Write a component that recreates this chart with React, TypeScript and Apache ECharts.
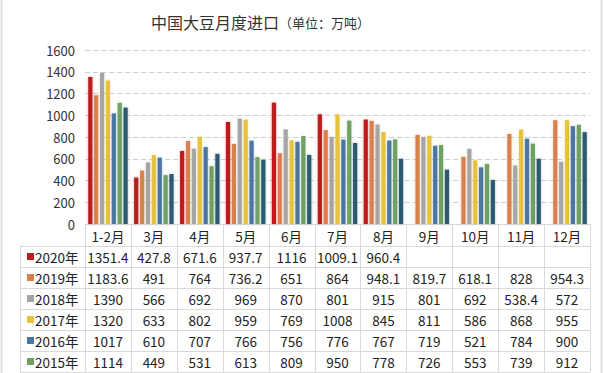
import React, { useEffect, useRef } from "react";
import * as echarts from "echarts";

const categories = ["1-2月", "3月", "4月", "5月", "6月", "7月", "8月", "9月", "10月", "11月", "12月"];
const years = ["2020年", "2019年", "2018年", "2017年", "2016年", "2015年", "2014年"];
const colors = ["#BE1F1E", "#D9814E", "#A6A6A6", "#E8C23E", "#4B76A3", "#6FA062", "#2D5A71"];

const s2020 = [1351.4, 427.8, 671.6, 937.7, 1116, 1009.1, 960.4, null, null, null, null];
const s2019 = [1183.6, 491, 764, 736.2, 651, 864, 948.1, 819.7, 618.1, 828, 954.3];
const s2018 = [1390, 566, 692, 969, 870, 801, 915, 801, 692, 538.4, 572];
const s2017 = [1320, 633, 802, 959, 769, 1008, 845, 811, 586, 868, 955];
const s2016 = [1017, 610, 707, 766, 756, 776, 767, 719, 521, 784, 900];
const s2015 = [1114, 449, 531, 613, 809, 950, 778, 726, 553, 739, 912];
// 7th series: not in the visible table
const s2014 = [1070, 460, 645, 590, 635, 745, 600, 500, 405, 600, 845];

const seriesData = [s2020, s2019, s2018, s2017, s2016, s2015, s2014];
const tableRows = 6;

const FONT = "'Noto Sans CJK SC', 'Noto Sans', sans-serif";

function hexA(hex: string, a: number) {
  const n = parseInt(hex.slice(1), 16);
  return `rgba(${(n >> 16) & 255},${(n >> 8) & 255},${n & 255},${a})`;
}

export default function App() {
  const ref = useRef<HTMLDivElement>(null);
  useEffect(() => {
    document.body.style.margin = "0";
    const el = ref.current!;
    const chart = echarts.init(el, null, { renderer: "svg" });
    const option: any = {
      animation: false,
      backgroundColor: "#ffffff",
      textStyle: { fontFamily: FONT },
      title: {
        text: "{a|中国大豆月度进口}{b|（单位：万吨）}",
        left: 146,
        top: 9,
        textStyle: {
          fontWeight: "normal",
          rich: {
            a: { fontSize: 16, color: "#333", fontFamily: FONT, fontWeight: "normal" },
            b: { fontSize: 13, color: "#333", fontFamily: FONT, fontWeight: "normal" },
          },
        },
      },
      grid: { left: 85, right: 14, top: 50, bottom: 149, containLabel: false },
      xAxis: {
        type: "category",
        data: categories,
        axisLine: { lineStyle: { color: "#d9d9d9" } },
        axisTick: { show: false },
        axisLabel: { fontSize: 13.5, color: "#222", margin: 5, fontFamily: FONT },
      },
      yAxis: {
        type: "value",
        min: 0,
        max: 1600,
        interval: 200,
        axisLine: { show: false },
        axisTick: { show: false },
        axisLabel: { fontSize: 13, color: "#333", margin: 10, fontFamily: FONT, formatter: (v: number) => String(v) },
        splitLine: { lineStyle: { type: [5, 3], color: "#cfcfcf" } },
      },
      series: seriesData.map((d, i) => ({
        name: years[i],
        type: "bar",
        data: d,
        barGap: "40%",
        barCategoryGap: "14%",
        itemStyle: {
          color: colors[i],
          shadowBlur: 3,
          shadowColor: hexA(colors[i], 0.35),
        },
      })),
    };
    chart.setOption(option);

    const xs = categories.map((_, i) => chart.convertToPixel({ xAxisIndex: 0 }, i) as number);
    const colW = xs[1] - xs[0];
    const y0 = chart.convertToPixel({ yAxisIndex: 0 }, 0) as number;
    const headerH = 22;
    const rowH = 21;
    const tableLeft = 20;
    const tableRight = xs[xs.length - 1] + colW / 2;
    const bodyTop = y0 + headerH;
    const bottom = bodyTop + tableRows * rowH;
    const gridColor = "#d9d9d9";
    const px = (v: number) => Math.round(v) + 0.5;

    const g: any[] = [];
    for (let r = 0; r <= tableRows; r++) {
      const y = px(bodyTop + r * rowH);
      g.push({ type: "line", shape: { x1: tableLeft, y1: y, x2: tableRight, y2: y }, style: { stroke: gridColor, lineWidth: 1 } });
    }
    g.push({ type: "line", shape: { x1: px(tableLeft), y1: bodyTop, x2: px(tableLeft), y2: bottom }, style: { stroke: gridColor, lineWidth: 1 } });
    for (let i = 0; i <= categories.length; i++) {
      const x = px(xs[0] - colW / 2 + i * colW);
      g.push({ type: "line", shape: { x1: x, y1: y0, x2: x, y2: bottom }, style: { stroke: gridColor, lineWidth: 1 } });
    }
    for (let r = 0; r < tableRows; r++) {
      const cy = bodyTop + r * rowH + rowH / 2;
      g.push({ type: "rect", shape: { x: 27, y: cy - 3.5, width: 7, height: 7 }, style: { fill: colors[r] } });
      g.push({
        type: "text",
        x: 35,
        y: cy,
        style: { text: years[r], fontSize: 13.5, fill: "#222", fontFamily: FONT, verticalAlign: "middle", align: "left" },
      });
      seriesData[r].forEach((v, i) => {
        if (v === null || v === undefined) return;
        g.push({
          type: "text",
          x: xs[i],
          y: cy,
          style: { text: String(v), fontSize: 13.5, fill: "#222", fontFamily: FONT, verticalAlign: "middle", align: "center" },
        });
      });
    }
    g.push({ type: "line", shape: { x1: 1.5, y1: 0, x2: 1.5, y2: 373 }, style: { stroke: "#e2e2e2", lineWidth: 2 } });
    g.push({ type: "line", shape: { x1: 601.5, y1: 0, x2: 601.5, y2: 373 }, style: { stroke: "#e2e2e2", lineWidth: 2 } });

    chart.setOption({ graphic: { elements: g } });
    return () => chart.dispose();
  }, []);
  return <div ref={ref} style={{ width: 604, height: 373 }} />;
}
